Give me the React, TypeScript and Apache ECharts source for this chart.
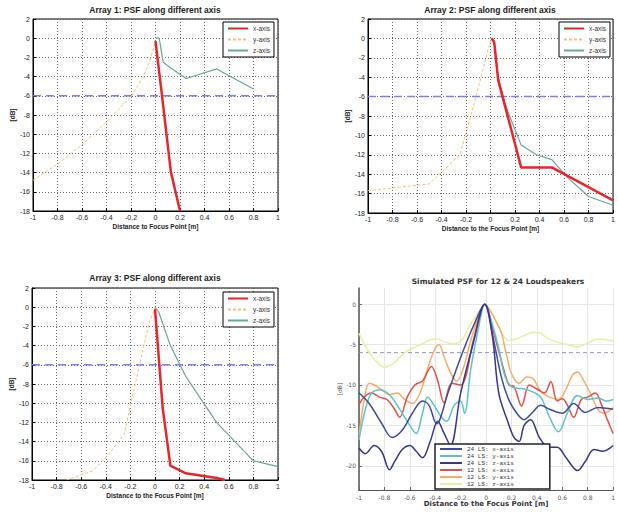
import React, { useEffect, useRef } from "react";
import * as echarts from "echarts";

// ---------- Array 1 ----------
const A1_X = [[0, -0.3], [0.0625, -7], [0.125, -13.9], [0.2, -18]];
const A1_Y = [[-1, -14.8], [-0.8, -13.1], [-0.6, -11.1], [-0.4, -8.7], [-0.2, -6.1], [-0.1, -4.0], [-0.05, -2.5], [0, -0.3]];
const A1_Z = [[0, 0], [0.03, 0], [0.0625, -2.5], [0.125, -3.1], [0.25, -4.2], [0.5, -3.2], [0.8, -5.3]];

// ---------- Array 2 ----------
const A2_X = [[0.01, 0], [0.03, -0.4], [0.0625, -4.3], [0.25, -13.3], [0.5, -13.3], [1, -16.7]];
const A2_Y = [[-1, -15.7], [-0.5, -15], [-0.25, -12], [-0.125, -6.3], [0, -0.2]];
const A2_Z = [[0, 0], [0.03, -0.3], [0.0625, -4], [0.125, -7], [0.25, -11], [0.375, -12], [0.5, -12.5], [0.625, -14.3], [0.8, -16.3], [1, -17.2]];

// ---------- Array 3 ----------
const A3_X = [[0, -0.2], [0.0625, -10.5], [0.125, -16.5], [0.25, -17.3], [0.5, -17.8], [0.57, -18]];
const A3_Y = [[-0.72, -18], [-0.5, -17], [-0.375, -15.3], [-0.25, -13.2], [-0.1875, -9.5], [-0.125, -6], [-0.05, -1.7], [0, 0]];
const A3_Z = [[0, 0], [0.03, -0.5], [0.125, -4], [0.25, -7.2], [0.5, -12], [0.8, -16], [1, -16.6]];

// ---------- Simulated PSF ----------
const S24_X = [[-1, -11], [-0.92, -12.3], [-0.82, -14.8], [-0.74, -16.5], [-0.66, -15.6], [-0.58, -13.5], [-0.5, -12], [-0.45, -12.5], [-0.39, -14.8], [-0.3, -11], [-0.2, -6.6], [-0.1, -2.7], [-0.01, 0], [0.06, -4.5], [0.12, -9], [0.17, -11.5], [0.22, -13], [0.3, -14.3], [0.36, -13.5], [0.43, -12.5], [0.5, -13], [0.6, -13.5], [0.69, -12.3], [0.78, -13.4], [0.88, -12.8], [1, -13]];
const S24_Y = [[-1, -16.8], [-0.95, -13], [-0.9, -11], [-0.83, -10.6], [-0.75, -11.4], [-0.68, -13], [-0.6, -15], [-0.55, -16], [-0.5, -13.5], [-0.46, -11.5], [-0.41, -12.5], [-0.35, -14], [-0.31, -14.5], [-0.25, -12.5], [-0.2, -12], [-0.17, -13.5], [-0.12, -8], [-0.06, -3], [-0.01, 0], [0.05, -2.5], [0.1, -5.5], [0.15, -9], [0.2, -10.2], [0.25, -10.4], [0.3, -10.5], [0.36, -10.8], [0.43, -11.5], [0.5, -14], [0.57, -15.8], [0.64, -13.5], [0.72, -11.3], [0.8, -11.8], [0.88, -11.6], [0.95, -12], [1, -11.8]];
const S24_Z = [[-1, -17.8], [-0.95, -18.5], [-0.88, -17.5], [-0.82, -18.3], [-0.76, -20.5], [-0.72, -19.5], [-0.66, -18], [-0.6, -17.5], [-0.55, -18.2], [-0.5, -19], [-0.44, -17], [-0.38, -14.5], [-0.33, -16], [-0.28, -17.5], [-0.2, -11], [-0.1, -4.8], [-0.01, 0], [0.05, -4], [0.1, -11], [0.17, -14.5], [0.22, -16.5], [0.26, -17], [0.3, -15], [0.35, -14.3], [0.42, -16.5], [0.49, -17.7], [0.56, -17.7], [0.63, -19], [0.72, -20.6], [0.78, -19.5], [0.85, -18], [0.92, -18.2], [1, -17.5]];
const S12_X = [[-1, -12.5], [-0.96, -11.5], [-0.9, -11], [-0.84, -11.5], [-0.78, -11.8], [-0.72, -13], [-0.68, -14], [-0.62, -11.5], [-0.56, -10], [-0.5, -9.5], [-0.43, -7.7], [-0.38, -9.5], [-0.33, -12.2], [-0.27, -9.8], [-0.2, -10], [-0.16, -9], [-0.1, -4.5], [-0.01, 0], [0.06, -3.5], [0.12, -7], [0.18, -10], [0.22, -10.2], [0.28, -12.6], [0.34, -10], [0.4, -10.5], [0.46, -11], [0.51, -9.6], [0.56, -12], [0.6, -11.7], [0.64, -12.5], [0.69, -14], [0.75, -11.8], [0.8, -11.5], [0.86, -11], [0.91, -12.5], [0.96, -14.5], [1, -16]];
const S12_Y = [[-1, -16.2], [-0.96, -12], [-0.92, -9.8], [-0.88, -10], [-0.82, -10.6], [-0.76, -11.2], [-0.7, -11], [-0.64, -11.8], [-0.58, -12.3], [-0.52, -11], [-0.46, -8], [-0.41, -5.8], [-0.37, -5], [-0.33, -6.5], [-0.28, -8.5], [-0.23, -9.5], [-0.18, -8], [-0.12, -4.5], [-0.06, -1.5], [-0.01, 0], [0.04, -1], [0.08, -2.2], [0.12, -3.5], [0.16, -6.2], [0.2, -8.6], [0.26, -9.8], [0.32, -9], [0.37, -9.2], [0.43, -10.8], [0.5, -11.5], [0.57, -11.8], [0.63, -10.5], [0.68, -8.8], [0.72, -8.4], [0.77, -9.5], [0.82, -11], [0.88, -13], [0.93, -13.5], [1, -12.8]];
const S12_Z = [[-1, -3.6], [-0.95, -5.2], [-0.88, -6.8], [-0.8, -7.8], [-0.72, -7.2], [-0.64, -6], [-0.56, -5.3], [-0.5, -4.9], [-0.44, -4.4], [-0.38, -4.3], [-0.32, -4.7], [-0.26, -4.9], [-0.2, -4.6], [-0.14, -3], [-0.07, -1.2], [-0.01, 0], [0.06, -1.5], [0.12, -3.5], [0.18, -4.5], [0.24, -4.3], [0.3, -3.9], [0.36, -3.5], [0.41, -3.5], [0.48, -4.2], [0.56, -4.7], [0.64, -5], [0.72, -5.3], [0.8, -4.8], [0.88, -4.3], [0.95, -4.4], [1, -4.6]];

const REF_LINE = [[-1, -6], [1, -6]];
const AXIS_NAMES = ["x-axis", "y-axis", "z-axis"];
const SIM_NAMES = ["24 LS: x-axis", "24 LS: y-axis", "24 LS: z-axis", "12 LS: x-axis", "12 LS: y-axis", "12 LS: z-axis"];
const TITLES = ["Array 1: PSF along different axis", "Array 2: PSF along different axis", "Array 3: PSF along different axis", "Simulated PSF for 12 & 24 Loudspeakers"];
const X_NAMES = ["Distance to Focus Point [m]", "Distance to the Focus Point [m]", "Distance to the Focus Point [m]", "Distance to the Focus Point [m]"];
const Y_TICKS_SIM = [-20, -15, -10, -5, 0];

const FONT = "Liberation Sans";
const SIM_FONT = "DejaVu Sans";

function fmtX(v: number) {
  return String(Math.round(v * 10) / 10);
}

function buildOption() {
  const grids = [
    { left: 33, top: 19, width: 245, height: 192 },
    { left: 368, top: 19, width: 247, height: 194 },
    { left: 32, top: 288, width: 246, height: 192 },
    { left: 359, top: 288, width: 262, height: 202 },
  ];
  const grid = grids.map((g, i) => ({
    ...g,
    show: i < 3,
    borderColor: "#000",
    borderWidth: 1,
    backgroundColor: "#fff",
  }));

  const xNameGap = [12, 12, 12, 5];
  const yNameGap = [17, 15, 17, 14];

  const xAxis: any[] = [];
  const yAxis: any[] = [];
  for (let i = 0; i < 3; i++) {
    xAxis.push({
      type: "value",
      gridIndex: i,
      min: -1,
      max: 1,
      interval: 0.2,
      name: X_NAMES[i],
      nameLocation: "middle",
      nameGap: xNameGap[i],
      nameTextStyle: { fontSize: 6.5, fontWeight: "bold", color: "#222", fontFamily: FONT },
      axisLine: { show: true, onZero: false, lineStyle: { color: "#000", width: 1 } },
      axisTick: { show: true, inside: true, length: 3, lineStyle: { color: "#000" } },
      axisLabel: { fontSize: 7, color: "#222", margin: 3, fontFamily: FONT, formatter: fmtX },
      splitLine: { show: true, lineStyle: { color: "#666", type: [1, 2], width: 1 } },
    });
    yAxis.push({
      type: "value",
      gridIndex: i,
      min: -18,
      max: 2,
      interval: 2,
      name: "[dB]",
      nameLocation: "middle",
      nameGap: yNameGap[i],
      nameTextStyle: { fontSize: 6.5, fontWeight: "bold", color: "#222", fontFamily: FONT },
      axisLine: { show: true, onZero: false, lineStyle: { color: "#000", width: 1 } },
      axisTick: { show: true, inside: true, length: 3, lineStyle: { color: "#000" } },
      axisLabel: { fontSize: 7, color: "#222", margin: 3, fontFamily: FONT },
      splitLine: { show: true, lineStyle: { color: "#666", type: [1, 2], width: 1 } },
    });
  }
  xAxis.push({
    type: "value",
    gridIndex: 3,
    min: -1,
    max: 1,
    interval: 0.2,
    name: X_NAMES[3],
    nameLocation: "middle",
    nameGap: 5,
    nameTextStyle: { fontSize: 7, fontWeight: "bold", color: "#333", fontFamily: SIM_FONT },
    axisLine: { show: true, onZero: false, lineStyle: { color: "#555", width: 1.2 } },
    axisTick: { show: true, inside: true, length: 3, lineStyle: { color: "#666" } },
    axisLabel: { fontSize: 6, color: "#555", margin: 4, fontFamily: SIM_FONT, formatter: fmtX },
    splitLine: { show: true, lineStyle: { color: "#e6e6e6", width: 1 } },
  });
  yAxis.push({
    type: "value",
    gridIndex: 3,
    min: -23,
    max: 2,
    name: "[dB]",
    nameLocation: "middle",
    nameGap: 14,
    nameTextStyle: { fontSize: 6, color: "#555", fontFamily: SIM_FONT },
    axisLine: { show: true, onZero: false, lineStyle: { color: "#555", width: 1.5 } },
    axisTick: { show: true, inside: true, length: 3, lineStyle: { color: "#666" }, customValues: Y_TICKS_SIM },
    axisLabel: { fontSize: 6, color: "#555", margin: 3, fontFamily: SIM_FONT, customValues: Y_TICKS_SIM },
    splitLine: { show: true, lineStyle: { color: "#e6e6e6", width: 1 } },
  });

  const axisSeries = (idx: number, xs: number[][], ys: number[][], zs: number[][]) => [
    {
      type: "line", name: "ref", xAxisIndex: idx, yAxisIndex: idx, data: REF_LINE, symbol: "none",
      lineStyle: { color: "#7f7ff2", width: 1.5, type: [8, 5] }, silent: true,
    },
    {
      type: "line", name: "y-axis", xAxisIndex: idx, yAxisIndex: idx, data: ys, symbol: "none",
      lineStyle: { color: "#f2c27a", width: 1, type: [3, 2] }, itemStyle: { color: "#f2c27a" },
    },
    {
      type: "line", name: "z-axis", xAxisIndex: idx, yAxisIndex: idx, data: zs, symbol: "none",
      lineStyle: { color: "#6aa597", width: 1.2 }, itemStyle: { color: "#6aa597" },
    },
    {
      type: "line", name: "x-axis", xAxisIndex: idx, yAxisIndex: idx, data: xs, symbol: "none",
      lineStyle: { color: "#e8262a", width: 2.5 }, itemStyle: { color: "#e8262a" },
    },
  ];

  const simColors = ["#3d4b9b", "#5cc3c8", "#34378a", "#e25148", "#f5ae6a", "#e6efa2"];
  const simData = [S24_X, S24_Y, S24_Z, S12_X, S12_Y, S12_Z];
  const simDrawOrder = [5, 4, 3, 1, 0, 2];

  const series: any[] = [
    ...axisSeries(0, A1_X, A1_Y, A1_Z),
    ...axisSeries(1, A2_X, A2_Y, A2_Z),
    ...axisSeries(2, A3_X, A3_Y, A3_Z),
    {
      type: "line", name: "ref4", xAxisIndex: 3, yAxisIndex: 3, data: REF_LINE, symbol: "none",
      lineStyle: { color: "#8f98bd", width: 1, type: [4, 3] }, silent: true,
    },
    ...simDrawOrder.map((k) => ({
      type: "line",
      name: SIM_NAMES[k],
      xAxisIndex: 3,
      yAxisIndex: 3,
      data: simData[k],
      symbol: "none",
      smooth: 0.35,
      lineStyle: { color: simColors[k], width: 1.5 },
      itemStyle: { color: simColors[k] },
    })),
  ];

  const smallLegend = (left: number, top: number) => ({
    data: AXIS_NAMES,
    orient: "vertical",
    left,
    top,
    backgroundColor: "#fff",
    borderColor: "#000",
    borderWidth: 1,
    borderRadius: 0,
    padding: [3, 4, 3, 4],
    itemWidth: 20,
    itemHeight: 7,
    itemGap: 4,
    selectedMode: false,
    itemStyle: { opacity: 0 },
    textStyle: { fontSize: 6.5, color: "#333", fontFamily: FONT, lineHeight: 7 },
  });

  const legend = [
    smallLegend(223, 22),
    smallLegend(559, 22),
    smallLegend(223, 292),
    {
      data: SIM_NAMES,
      orient: "vertical",
      left: 435,
      top: 444,
      backgroundColor: "#fff",
      borderColor: "#222",
      borderWidth: 1.5,
      borderRadius: 0,
      padding: [2, 36, 2, 4],
      itemWidth: 22,
      itemHeight: 5,
      itemGap: 1,
      selectedMode: false,
      itemStyle: { opacity: 0 },
      textStyle: { fontSize: 6, color: "#333", fontFamily: "Liberation Mono", lineHeight: 6 },
    },
  ];

  const titlePos = [
    [155, 10],
    [490, 10],
    [155, 278],
    [498, 281],
  ];
  const graphic = TITLES.map((t, i) => ({
    type: "text",
    x: titlePos[i][0],
    y: titlePos[i][1],
    silent: true,
    style: {
      text: t,
      fill: i < 3 ? "#222" : "#333",
      fontSize: i < 3 ? 8.5 : 7.5,
      fontWeight: "bold",
      fontFamily: i < 3 ? FONT : SIM_FONT,
      align: "center",
      verticalAlign: "middle",
      textAlign: "center",
      textVerticalAlign: "middle",
    },
  }));

  return {
    animation: false,
    backgroundColor: "#fff",
    grid,
    xAxis,
    yAxis,
    series,
    legend,
    graphic,
  };
}

export default function App() {
  const ref = useRef<HTMLDivElement>(null);
  useEffect(() => {
    document.body.style.margin = "0";
    const chart = echarts.init(ref.current as HTMLDivElement, null, { renderer: "svg" });
    chart.setOption(buildOption() as any);
    return () => {
      chart.dispose();
    };
  }, []);
  return <div ref={ref} style={{ width: 618, height: 512, background: "#fff", overflow: "hidden" }} />;
}
